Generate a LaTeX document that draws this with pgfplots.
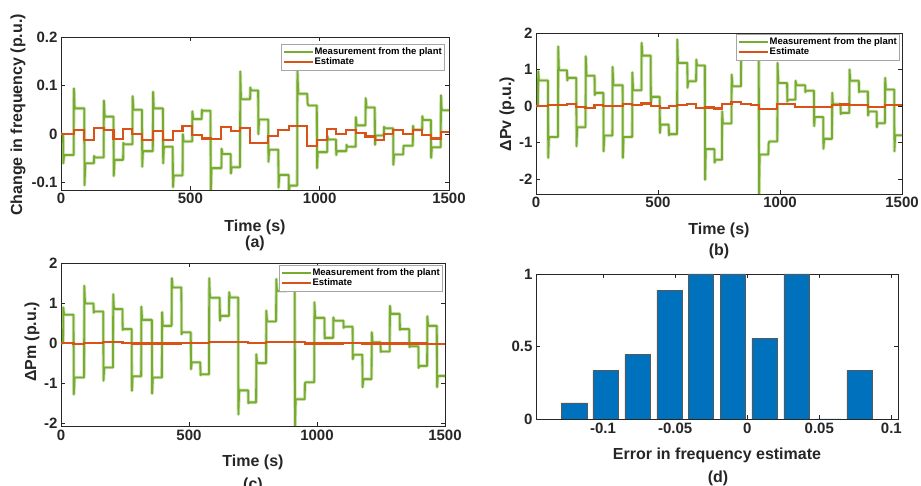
\documentclass[border=0pt]{standalone}
\usepackage{fontspec}
\setmainfont{Liberation Sans}
\usepackage{pgfplots}
\pgfplotsset{compat=1.18}
\definecolor{mgreen}{RGB}{119,172,48}
\definecolor{mred}{RGB}{217,83,25}
\definecolor{mblue}{RGB}{0,114,189}
\definecolor{axgray}{RGB}{38,38,38}
\pgfplotsset{
 myaxis/.style={
  scale only axis,
  axis line style={axgray, line width=0.7pt},
  every tick/.style={axgray, line width=0.7pt},
  major tick length=4pt, tick align=inside,
  ticklabel style={font=\fontsize{15}{17}\selectfont\bfseries, text=axgray},
  legend style={font=\fontsize{9.5}{11}\selectfont\bfseries, draw=gray!70, fill=white,
     inner xsep=1pt, inner ysep=2.5pt, row sep=0pt, anchor=north east,
     nodes={inner sep=1pt}},
  legend cell align=left,
  legend image code/.code={\draw[##1, line width=2pt] (0pt,0pt) -- (29pt,0pt);},
 },
 timeaxis/.style={xmin=0, xmax=1500, xtick={0,500,1000,1500}, xticklabels={0,500,1000,1500}},
 halo/.style={mgreen, opacity=0.35, line width=3.4pt, line join=round, forget plot},
 gline/.style={mgreen, line width=1.8pt, line join=round, forget plot},
 rline/.style={mred, line width=2.2pt, const plot, forget plot},
}
\newcommand{\lab}{\fontsize{16}{18}\selectfont\bfseries\color{axgray}}
\pgfplotstableread{
t y
0 0
8 0
9 -0.060
12 -0.043
49 -0.043
50 0.094
53 0.053
90 0.053
91 -0.105
94 -0.060
127 -0.060
128 -0.045
131 -0.048
165 -0.048
166 0.069
169 0.036
203 0.036
204 -0.086
207 -0.053
240 -0.053
241 -0.018
244 -0.021
276 -0.021
277 0.078
280 0.050
313 0.050
314 -0.067
317 -0.035
355 -0.035
356 0.087
359 0.053
394 0.053
395 -0.060
398 -0.026
432 -0.026
433 -0.109
436 -0.085
470 -0.085
471 0.000
474 -0.015
507 -0.015
508 0.047
511 0.031
544 0.031
545 0.050
548 0.048
578 0.048
579 -0.125
582 -0.070
620 -0.070
621 -0.030
624 -0.041
656 -0.041
657 -0.081
660 -0.068
692 -0.068
693 0.129
696 0.072
731 0.072
732 0.096
735 0.090
762 0.090
763 0.000
766 0.030
801 0.030
802 -0.057
805 -0.032
840 -0.032
841 -0.110
844 -0.084
880 -0.084
881 -0.120
884 -0.106
913 -0.106
914 0.135
917 0.083
952 0.083
953 0.064
956 0.059
989 0.059
990 -0.070
993 -0.037
1029 -0.037
1030 -0.004
1033 -0.011
1063 -0.011
1064 -0.043
1067 -0.035
1103 -0.035
1104 -0.022
1107 -0.026
1139 -0.026
1140 0.035
1143 0.018
1177 0.018
1178 0.074
1181 0.055
1213 0.055
1214 -0.022
1217 -0.003
1248 -0.003
1249 0.015
1252 0.012
1284 0.012
1285 -0.063
1288 -0.042
1323 -0.042
1324 -0.024
1327 -0.024
1360 -0.024
1361 0.017
1364 0.009
1396 0.009
1397 0.037
1400 0.029
1430 0.029
1431 -0.049
1434 -0.027
1468 -0.027
1469 0.080
1472 0.049
1500 0.049
}\freqmeas
\pgfplotstableread{
t y
0 0
8 0
9 0.95
12 0.70
49 0.70
50 -1.42
53 -0.85
90 -0.85
91 1.63
94 0.98
127 0.98
128 0.70
131 0.77
165 0.77
166 -1.10
169 -0.58
203 -0.58
204 1.36
207 0.83
240 0.83
241 0.30
244 0.36
276 0.36
277 -1.24
280 -0.81
313 -0.81
314 1.07
317 0.57
355 0.57
356 -1.42
359 -0.85
394 -0.85
395 0.92
398 0.43
432 0.43
433 1.73
436 1.38
470 1.38
471 0.10
474 0.25
507 0.25
508 -0.74
511 -0.51
544 -0.51
545 -0.80
548 -0.77
578 -0.77
579 1.82
582 1.18
620 1.18
621 0.50
624 0.68
656 0.68
657 1.27
660 1.11
692 1.11
693 -2.02
696 -1.18
731 -1.18
732 -1.55
735 -1.47
762 -1.47
763 -0.15
766 -0.48
801 -0.48
802 0.86
805 0.54
840 0.54
841 1.90
844 1.35
880 1.35
881 1.85
884 1.70
913 1.70
914 -2.45
917 -1.33
952 -1.33
953 -1.05
956 -0.97
989 -0.97
990 1.18
993 0.63
1029 0.63
1030 0.12
1033 0.17
1063 0.17
1064 0.69
1067 0.57
1103 0.57
1104 0.38
1107 0.42
1139 0.42
1140 -0.55
1143 -0.30
1177 -0.30
1178 -1.17
1181 -0.90
1213 -0.90
1214 0.36
1217 0.05
1248 0.05
1249 -0.22
1252 -0.19
1284 -0.19
1285 1.00
1288 0.69
1323 0.69
1324 0.38
1327 0.40
1360 0.40
1361 -0.26
1364 -0.15
1396 -0.15
1397 -0.58
1400 -0.47
1430 -0.47
1431 0.77
1434 0.45
1468 0.45
1469 -1.24
1472 -0.80
1500 -0.80
}\pvmeas
\pgfplotstableread{
t y
0 0
8 0
9 0.89
12 0.71
49 0.71
50 -1.28
53 -0.86
90 -0.86
91 1.43
94 0.99
127 0.99
128 0.76
131 0.79
165 0.79
166 -0.94
169 -0.61
203 -0.61
204 1.22
207 0.85
240 0.85
241 0.33
244 0.35
276 0.35
277 -1.19
280 -0.83
313 -0.83
314 0.91
317 0.58
355 0.58
356 -1.26
359 -0.86
394 -0.86
395 0.77
398 0.43
432 0.43
433 1.62
436 1.39
470 1.39
471 0.22
474 0.27
507 0.27
508 -0.65
511 -0.48
544 -0.48
545 -0.80
548 -0.78
578 -0.78
579 1.62
582 1.13
620 1.13
621 0.56
624 0.68
656 0.68
657 1.27
660 1.14
692 1.14
693 -1.78
696 -1.18
731 -1.18
732 -1.50
735 -1.48
762 -1.48
763 -0.28
766 -0.50
801 -0.50
802 0.81
805 0.54
840 0.54
841 1.60
844 1.30
880 1.30
881 1.65
884 1.55
913 1.55
914 -2.15
917 -1.40
952 -1.40
953 -1.00
956 -0.98
989 -0.98
990 1.02
993 0.63
1029 0.63
1030 0.12
1033 0.13
1063 0.13
1064 0.64
1067 0.56
1103 0.56
1104 0.38
1107 0.41
1139 0.41
1140 -0.40
1143 -0.29
1177 -0.29
1178 -1.10
1181 -0.90
1213 -0.90
1214 0.27
1217 0.02
1248 0.02
1249 -0.22
1252 -0.21
1284 -0.21
1285 0.93
1288 0.73
1323 0.73
1324 0.33
1327 0.35
1360 0.35
1361 -0.10
1364 -0.08
1396 -0.08
1397 -0.62
1400 -0.57
1430 -0.57
1431 0.67
1434 0.43
1468 0.43
1469 -1.10
1472 -0.82
1500 -0.82
}\pmmeas
\begin{document}
\begin{tikzpicture}[x=1pt,y=1pt]
\useasboundingbox (0,0) rectangle (921,486);
% ---------------- (a)
\begin{axis}[myaxis, timeaxis, at={(61pt,296pt)}, anchor=south west, width=388pt, height=153pt,
  ymin=-0.115, ymax=0.2, ytick={-0.1,0,0.1,0.2}, yticklabels={-0.1,0,0.1,0.2},
  legend style={at={(0.987,0.954)}}]
\addlegendimage{mgreen}\addlegendentry{Measurement from the plant}
\addlegendimage{mred}\addlegendentry{Estimate}
\addplot[halo] table {\freqmeas};
\addplot[gline] table {\freqmeas};
\addplot[rline] coordinates {
(0,0) (49,0.008) (90,-0.012) (127,0.013) (165,0.008) (203,-0.010) (240,0.010) (276,0.001)
(313,-0.012) (355,0.007) (394,-0.012) (432,0.007) (470,0.016) (507,-0.001) (544,-0.009)
(578,-0.010) (620,0.015) (656,0.006) (692,0.012) (731,-0.019) (801,-0.004) (840,0.008)
(880,0.017) (952,-0.025) (989,-0.012) (1029,0.010) (1063,0.000) (1103,0.008) (1139,0.003)
(1177,-0.005) (1213,-0.012) (1248,0.001) (1284,0.008) (1323,0.000) (1360,0.008)
(1396,-0.002) (1430,-0.009) (1468,0.005) (1500,0.005)};
\end{axis}
% ---------------- (b)
\begin{axis}[myaxis, timeaxis, at={(536pt,292pt)}, anchor=south west, width=366pt, height=161pt,
  ymin=-2.41, ymax=2, ytick={-2,-1,0,1,2}, yticklabels={-2,-1,0,1,2},
  legend style={at={(0.992,0.994)}}]
\addlegendimage{mgreen}\addlegendentry{Measurement from the plant}
\addlegendimage{mred}\addlegendentry{Estimate}
\addplot[halo] table {\pvmeas};
\addplot[gline] table {\pvmeas};
\addplot[rline] coordinates {
(0,0) (49,0.02) (127,0.06) (165,-0.03) (203,-0.05) (240,0.02) (276,0.0) (355,0.05)
(394,0.02) (432,0.07) (470,-0.01) (507,-0.05) (544,0.01) (578,0.02) (620,0.05)
(656,-0.05) (692,-0.04) (731,-0.07) (762,0.05) (801,0.10) (840,0.05) (880,0.02)
(913,-0.09) (989,0.05) (1063,-0.02) (1139,-0.03) (1213,0.02) (1248,0.04) (1284,0.02)
(1360,-0.03) (1430,0.02) (1500,0.02)};
\end{axis}
% ---------------- (c)
\begin{axis}[myaxis, timeaxis, at={(61pt,60pt)}, anchor=south west, width=384pt, height=163pt,
  ymin=-2.07, ymax=2, ytick={-2,-1,0,1,2}, yticklabels={-2,-1,0,1,2},
  legend style={at={(0.992,0.988)}}]
\addlegendimage{mgreen}\addlegendentry{Measurement from the plant}
\addlegendimage{mred}\addlegendentry{Estimate}
\addplot[halo] table {\pmmeas};
\addplot[gline] table {\pmmeas};
\addplot[rline] coordinates {
(0,0) (49,-0.025) (90,0.0) (165,0.02) (240,0.0) (276,-0.01) (470,-0.005) (578,0.02)
(620,0.03) (731,0.0) (801,0.02) (840,0.03) (952,-0.01) (1100,0.0) (1177,-0.01)
(1430,-0.015) (1500,-0.015)};
\end{axis}
% ---------------- (d)
\begin{axis}[myaxis, at={(536pt,67pt)}, anchor=south west, width=362pt, height=145pt,
  xmin=-0.1465, xmax=0.1046, ymin=0, ymax=1,
  xtick={-0.1,-0.05,0,0.05,0.1}, xticklabels={-0.1,-0.05,0,0.05,0.1},
  ytick={0,0.5,1}, yticklabels={0,0.5,1}]
\addplot[ybar, bar width=0.01757, fill=mblue, draw=gray!70!black, line width=0.5pt] coordinates {
(-0.1200,0.111) (-0.0982,0.333) (-0.0760,0.444) (-0.0538,0.889) (-0.0320,1.0)
(-0.0098,1.0) (0.0121,0.556) (0.0342,1.0) (0.0562,0.0) (0.0780,0.333)};
\end{axis}
% ---------------- labels
\node[font=\lab, rotate=90] at (18,371) {Change in frequency (p.u.)};
\node[font=\lab] at (255,259) {Time (s)};
\node[font=\lab] at (255,243) {(a)};
\node[font=\lab, rotate=90] at (507,372) {ΔPv (p.u.)};
\node[font=\lab] at (719,256) {Time (s)};
\node[font=\lab] at (719,235) {(b)};
\node[font=\lab, rotate=90] at (32,144) {ΔPm (p.u.)};
\node[font=\lab] at (253,24) {Time (s)};
\node[font=\lab] at (253,1) {(c)};
\node[font=\lab] at (717,31) {Error in frequency estimate};
\node[font=\lab] at (718,8) {(d)};
\end{tikzpicture}
\end{document}
